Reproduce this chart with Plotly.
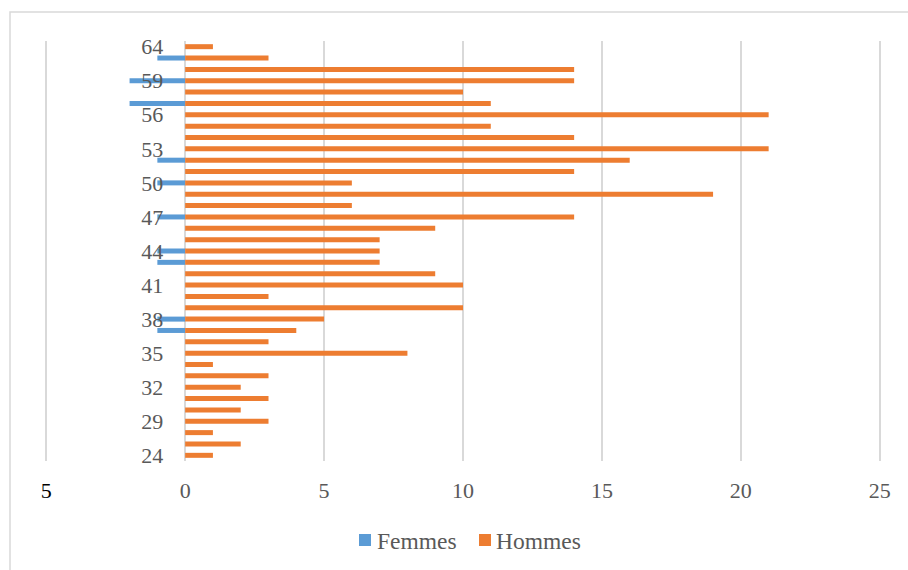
import plotly.graph_objects as go

# Age categories (bottom to top)
ages = ["24", "26", "27", "29", "30", "31", "32", "33", "34", "35", "36", "37", "38",
        "39", "40", "41", "42", "43", "44", "45", "46", "47", "48", "49", "50", "51",
        "52", "53", "54", "55", "56", "57", "58", "59", "61", "63", "64"]

# Counts per age; women are plotted to the left of zero
hommes = [1, 2, 1, 3, 2, 3, 2, 3, 1, 8, 3, 4, 5, 10, 3, 10, 9, 7, 7, 7, 9, 14, 6, 19,
          6, 14, 16, 21, 14, 11, 21, 11, 10, 14, 14, 3, 1]
femmes = [0, 0, 0, 0, 0, 0, 0, 0, 0, 0, 0, 1, 1, 0, 0, 0, 0, 1, 1, 0, 0, 1, 0, 0,
          1, 0, 1, 0, 0, 0, 0, 2, 0, 2, 0, 1, 0]

age_ticks = ["24", "29", "32", "35", "38", "41", "44", "47", "50", "53", "56", "59", "64"]
x_ticks = [-5, 0, 5, 10, 15, 20, 25]
x_ticktext = ["<span style='color:#000000;font-family:Liberation Serif'>5</span>",
              "0", "5", "10", "15", "20", "25"]

series_names = ["Femmes", "Hommes"]
series_colors = ["#5B9BD5", "#ED7D31"]

W, H = 908, 570
L, R, T, B = 44, 26, 41, 109
pw, ph = W - L - R, H - T - B
x_range = [-5.08, 25.08]

family = "Liberation Serif, Times New Roman, serif"
font = dict(family=family, size=22, color="#595959")


def px_x(px):
    return (px - L) / pw


def px_y(py):
    return (H - B - py) / ph


fig = go.Figure()
fig.add_trace(go.Bar(
    y=ages, x=[-v for v in femmes], orientation="h", name=series_names[0],
    marker=dict(color=series_colors[0], line=dict(width=0)),
))
fig.add_trace(go.Bar(
    y=ages, x=hommes, orientation="h", name=series_names[1],
    marker=dict(color=series_colors[1], line=dict(width=0)),
))

# outer chart frame
fig.add_shape(
    type="rect", xref="paper", yref="paper",
    x0=px_x(10), x1=px_x(W + 20), y0=px_y(H + 20), y1=px_y(12),
    line=dict(color="#d9d9d9", width=1.5), fillcolor="rgba(0,0,0,0)",
)

# legend: colour squares with labels, centred under the plot
legend_items = [(359, 376), (479, 495)]
for (sq_x, txt_x), name, color in zip(legend_items, series_names, series_colors):
    fig.add_shape(
        type="rect", xref="paper", yref="paper",
        x0=px_x(sq_x), x1=px_x(sq_x + 12), y0=px_y(546), y1=px_y(534),
        line=dict(width=0), fillcolor=color,
    )
    fig.add_annotation(
        xref="paper", yref="paper", x=px_x(txt_x), y=px_y(541),
        xanchor="left", yanchor="middle", showarrow=False, text=name,
        font=dict(family=family, size=23.5, color="#595959"), borderpad=0,
    )

fig.update_layout(
    width=W, height=H,
    margin=dict(l=L, r=R, t=T, b=B),
    paper_bgcolor="white", plot_bgcolor="white",
    font=font,
    barmode="relative", bargap=0.56,
    showlegend=False,
    xaxis=dict(
        range=x_range, tickvals=x_ticks, ticktext=x_ticktext,
        showgrid=True, gridcolor="#d9d9d9", gridwidth=2,
        zeroline=False, showline=False, ticks="",
        ticklabelstandoff=14, fixedrange=True,
    ),
    yaxis=dict(
        type="category", categoryorder="array", categoryarray=ages,
        range=[-0.5, len(ages) - 0.5],
        tickvals=age_ticks, ticktext=age_ticks,
        anchor="free", position=(0 - x_range[0]) / (x_range[1] - x_range[0]),
        showgrid=False, zeroline=False, showline=False, ticks="",
        ticklabelstandoff=22,
    ),
)

fig.write_html("out.html")
